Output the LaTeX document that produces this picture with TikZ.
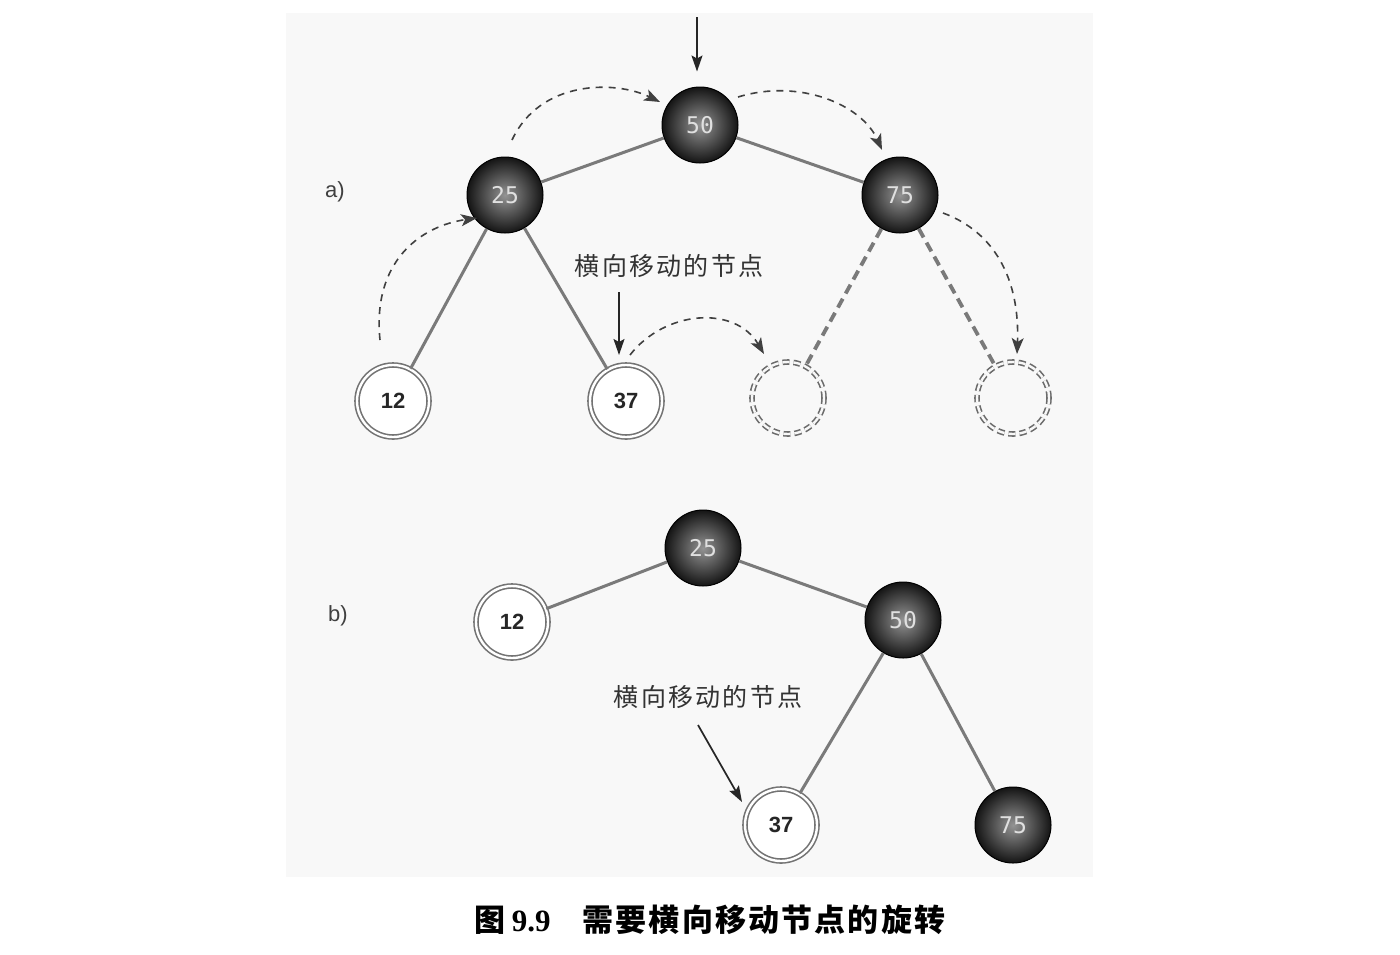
\documentclass[tikz,border=0pt]{standalone}
\usepackage{fontspec}
\setmainfont{Liberation Sans}
\newfontfamily\cjkcap[LetterSpace=7]{Noto Sans CJK SC}
\newfontfamily\cjklab[LetterSpace=9]{Noto Sans CJK SC}
\newfontfamily\capserif{Liberation Serif}
\newfontfamily\monof{DejaVu Sans Mono}
\usetikzlibrary{arrows.meta}
\definecolor{bggray}{HTML}{F8F8F8}
\definecolor{edgegray}{HTML}{7A7A7A}
\tikzset{
  dark/.style={circle, minimum size=76pt, inner sep=0pt, draw=black, line width=1pt,
    inner color=black!42, outer color=black!92, text=black!12,
    font=\monof\fontsize{23}{26}\selectfont},
  light/.style={circle, minimum size=72pt, inner sep=0pt, draw=black!55, line width=1.6pt,
    double=white, double distance=2.4pt, fill=white, text=black!85,
    font=\fontsize{22}{26}\selectfont\bfseries},
  ghost/.style={circle, minimum size=72pt, inner sep=0pt, draw=black!58, line width=1.6pt,
    double=bggray, double distance=2.4pt, dash pattern=on 7pt off 4pt},
  edge/.style={draw=edgegray, line width=3pt},
  ghostedge/.style={draw=edgegray, line width=3.8pt, dash pattern=on 10pt off 6pt},
  move/.style={draw=black!75, line width=1.6pt, dash pattern=on 7pt off 6pt,
    -{Stealth[length=16pt,width=12pt,inset=4pt]}},
  pointer/.style={draw=black!85, line width=1.7pt, -{Stealth[length=16pt,width=11pt,inset=3pt]}},
  lab/.style={text=black!80, font=\cjklab\fontsize{25}{28}\selectfont},
  part/.style={text=black!75, font=\fontsize{22}{26}\selectfont}
}
\begin{document}
\begin{tikzpicture}[x=1pt,y=-1pt]
\useasboundingbox (0,0) rectangle (1400,954);
\fill[white] (0,0) rectangle (1400,954);
\fill[bggray] (286,13) rectangle (1093,877);

% ---------- a) ----------
\node[part] (la) at (335,192) {a)};
\node[dark] (a50) at (700,125) {50};
\node[dark] (a25) at (505,195) {25};
\node[dark] (a75) at (900,195) {75};
\node[light] (a12) at (393,401) {12};
\node[light] (a37) at (626,401) {37};
\node[ghost] (ag1) at (788,398) {};
\node[ghost] (ag2) at (1013,398) {};

\draw[edge] (a50) -- (a25);
\draw[edge] (a50) -- (a75);
\draw[edge] (a25) -- (a12);
\draw[edge] (a25) -- (a37);
\draw[ghostedge] (a75) -- (ag1);
\draw[ghostedge] (a75) -- (ag2);

\coordinate (top) at (697,17);
\draw[pointer, shorten >=15pt] (top) -- (a50.north -| top);

\node[lab] (lab1) at (669,266) {横向移动的节点};
\coordinate (p1s) at (619,292);
\coordinate (p1e) at (619,355);
\draw[pointer] (p1s) -- (p1e);

\coordinate (m1s) at (380,340);
\coordinate (m1e) at (477,218);
\draw[move] (m1s) .. controls (372,262) and (420,226) .. (m1e);
\coordinate (m2s) at (512,140);
\coordinate (m2e) at (660,102);
\draw[move] (m2s) .. controls (540,80) and (615,80) .. (m2e);
\coordinate (m3s) at (738,97);
\coordinate (m3e) at (882,150);
\draw[move] (m3s) .. controls (800,78) and (862,105) .. (m3e);
\coordinate (m4s) at (943,213);
\coordinate (m4e) at (1017,354);
\draw[move] (m4s) .. controls (995,232) and (1020,280) .. (m4e);
\coordinate (m5s) at (630,355);
\coordinate (m5e) at (764,354);
\draw[move] (m5s) .. controls (665,310) and (735,305) .. (m5e);

% ---------- b) ----------
\node[part] (lb) at (338,616) {b)};
\node[dark] (b25) at (703,548) {25};
\node[light] (b12) at (512,622) {12};
\node[dark] (b50) at (903,620) {50};
\node[light] (b37) at (781,825) {37};
\node[dark] (b75) at (1013,825) {75};

\draw[edge] (b25) -- (b12);
\draw[edge] (b25) -- (b50);
\draw[edge] (b50) -- (b37);
\draw[edge] (b50) -- (b75);

\node[lab] (lab2) at (708,697) {横向移动的节点};
\coordinate (p2s) at (698,725);
\coordinate (p2e) at (742,802);
\draw[pointer] (p2s) -- (p2e);

% ---------- caption ----------
\node (cap) at (710,920) {{\cjkcap\bfseries\fontsize{31}{34}\selectfont 图}\hspace{6pt}{\capserif\bfseries\fontsize{31}{34}\selectfont 9.9}\hspace{32pt}{\cjkcap\bfseries\fontsize{31}{34}\selectfont 需要横向移动节点的旋转}};
\end{tikzpicture}
\end{document}
